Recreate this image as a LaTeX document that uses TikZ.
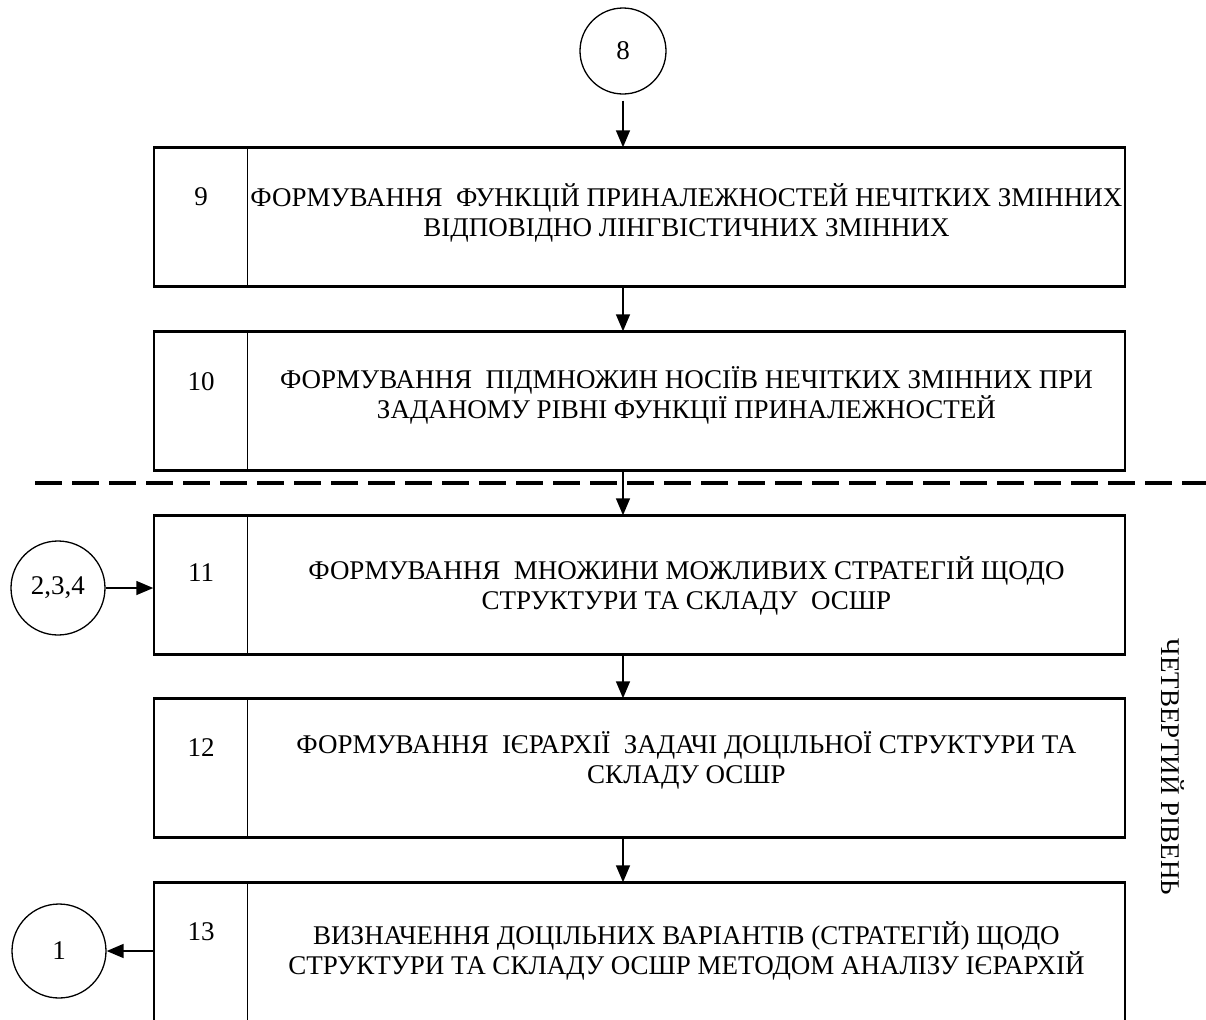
\documentclass[tikz,border=0pt]{standalone}
\usepackage{fontspec}
\setmainfont{Liberation Serif}
\usepackage{tikz}
\usetikzlibrary{positioning,arrows.meta,shapes.geometric}

\tikzset{
  blok/.style={draw, rectangle, line width=0.75pt, minimum width=485.5pt, minimum height=69pt, inner sep=0pt},
  krug/.style={draw, circle, line width=0.65pt, inner sep=0pt},
  napys/.style={align=center, inner sep=0pt, font=\fontsize{13.5}{15}\selectfont},
  strilka/.style={-{Triangle[length=8.5pt,width=7pt]}, line width=0.8pt}
}

\begin{document}
\begin{tikzpicture}[x=0.5pt, y=-0.5pt]
    \useasboundingbox (0,0) rectangle (1206,1019);

    %kola
    \node[krug, minimum size=43pt, napys] (c8) at (623,51) {8};
    \node[krug, minimum size=47pt, napys] (c234) at (58,588) {2,3,4};
    \node[krug, minimum size=47pt, napys] (c1) at (59,951) {1};

    %bloky
    \node[blok] (b9) at (639.5,217) {};
    \node[blok] (b10) at (639.5,401) {};
    \node[blok] (b11) at (639.5,585) {};
    \node[blok] (b12) at (639.5,768) {};
    \node[blok] (b13) at (639.5,952) {};

    %verkh i nyz tovshchi
    \draw[line width=1.2pt] (b9.north west) -- (b9.north east);
    \draw[line width=1.2pt] (b9.south west) -- (b9.south east);
    \draw[line width=1.2pt] (b10.north west) -- (b10.north east);
    \draw[line width=1.2pt] (b10.south west) -- (b10.south east);
    \draw[line width=1.2pt] (b11.north west) -- (b11.north east);
    \draw[line width=1.2pt] (b11.south west) -- (b11.south east);
    \draw[line width=1.2pt] (b12.north west) -- (b12.north east);
    \draw[line width=1.2pt] (b12.south west) -- (b12.south east);
    \draw[line width=1.2pt] (b13.north west) -- (b13.north east);

    %rozdilnyky
    \draw[line width=0.75pt] ([xshift=47pt]b9.north west) -- ([xshift=47pt]b9.south west);
    \draw[line width=0.75pt] ([xshift=47pt]b10.north west) -- ([xshift=47pt]b10.south west);
    \draw[line width=0.75pt] ([xshift=47pt]b11.north west) -- ([xshift=47pt]b11.south west);
    \draw[line width=0.75pt] ([xshift=47pt]b12.north west) -- ([xshift=47pt]b12.south west);
    \draw[line width=0.75pt] ([xshift=47pt]b13.north west) -- ([xshift=47pt]b13.south west);

    %nomery
    \node[napys] (n9) at (201,197) {9};
    \node[napys] (n10) at (201,382) {10};
    \node[napys] (n11) at (201,573) {11};
    \node[napys] (n12) at (201,748) {12};
    \node[napys] (n13) at (201,932) {13};

    %teksty
    \node[napys] (t9) at (686.5,213) {ФОРМУВАННЯ~ ФУНКЦІЙ ПРИНАЛЕЖНОСТЕЙ НЕЧІТКИХ ЗМІННИХ\\ВІДПОВІДНО ЛІНГВІСТИЧНИХ ЗМІННИХ};
    \node[napys] (t10) at (686.5,395) {ФОРМУВАННЯ~ ПІДМНОЖИН НОСІЇВ НЕЧІТКИХ ЗМІННИХ ПРИ\\ЗАДАНОМУ РІВНІ ФУНКЦІЇ ПРИНАЛЕЖНОСТЕЙ};
    \node[napys] (t11) at (686.5,586) {ФОРМУВАННЯ~ МНОЖИНИ МОЖЛИВИХ СТРАТЕГІЙ ЩОДО\\СТРУКТУРИ ТА СКЛАДУ~ ОСШР};
    \node[napys] (t12) at (686.5,760) {ФОРМУВАННЯ~ ІЄРАРХІЇ~ ЗАДАЧІ ДОЦІЛЬНОЇ СТРУКТУРИ ТА\\СКЛАДУ ОСШР};
    \node[napys] (t13) at (686.5,951) {ВИЗНАЧЕННЯ ДОЦІЛЬНИХ ВАРІАНТІВ (СТРАТЕГІЙ) ЩОДО\\СТРУКТУРИ ТА СКЛАДУ ОСШР МЕТОДОМ АНАЛІЗУ ІЄРАРХІЙ};

    %riven
    \node[napys, rotate=-90] (rv) at (1173,767) {ЧЕТВЕРТИЙ РІВЕНЬ};

    %shtrykhova liniia
    \draw[line width=2pt, dash pattern=on 13.5pt off 5pt] (35,483) -- (1206,483);

    %strilky
    \draw[strilka, shorten <=3pt] (c8.south) -- (c8.south |- b9.north);
    \draw[strilka] (c8 |- b9.south) -- (c8 |- b10.north);
    \draw[strilka] (c8 |- b10.south) -- (c8 |- b11.north);
    \draw[strilka] (c8 |- b11.south) -- (c8 |- b12.north);
    \draw[strilka] (c8 |- b12.south) -- (c8 |- b13.north);
    \draw[strilka] (c234.east) -- (c234.east -| b11.west);
    \draw[strilka] (b13.west |- c1.east) -- (c1.east);
\end{tikzpicture}
\end{document}
